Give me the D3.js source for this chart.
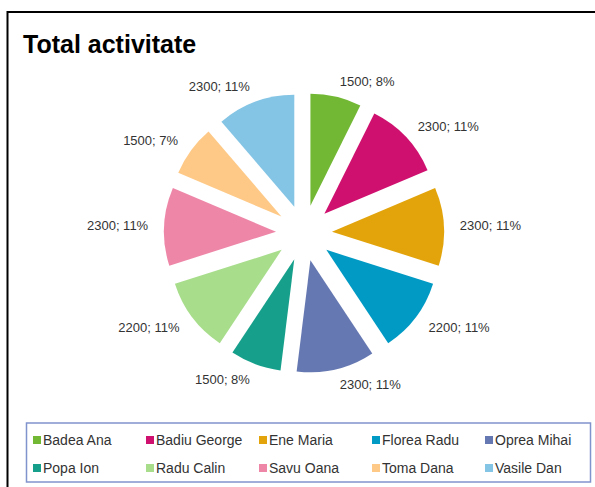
<!DOCTYPE html>
<html>
<head>
<meta charset="utf-8">
<script src="https://cdn.jsdelivr.net/npm/d3@7"></script>
<style>
  html, body { margin: 0; padding: 0; background: #fff; }
  svg { display: block; }
</style>
</head>
<body>
<div id="chart"></div>
<script>
// Activity totals per person
const names = ["Badea Ana", "Badiu George", "Ene Maria", "Florea Radu", "Oprea Mihai",
               "Popa Ion", "Radu Calin", "Savu Oana", "Toma Dana", "Vasile Dan"];
const values = [1500, 2300, 2300, 2200, 2300, 1500, 2200, 2300, 1500, 2300];
const percentLabels = ["8%", "11%", "11%", "11%", "11%", "8%", "11%", "11%", "7%", "11%"];
const colors = ["#72b834", "#cf106f", "#e2a40a", "#009ac4", "#6678b2",
                "#16a08b", "#a8dd8c", "#ee86a8", "#fec986", "#84c4e4"];

const W = 595, H = 487;
const svg = d3.select("#chart").append("svg").attr("width", W).attr("height", H);

// Chart frame (extends past the visible area on the right and bottom)
svg.append("rect")
  .attr("x", 7.5).attr("y", 12).attr("width", 620).attr("height", 520)
  .attr("fill", "#fff").attr("stroke", "#000").attr("stroke-width", 2);

svg.append("text")
  .attr("x", 23).attr("y", 53)
  .attr("font-family", "Liberation Sans, Arial, sans-serif")
  .attr("font-weight", "bold").attr("font-size", 25)
  .attr("fill", "#000")
  .text("Total activitate");

// Exploded pie
const cx = 304, cy = 233, radius = 112, explode = 28, labelR = 156;
const pie = d3.pie().sort(null).value(d => d.value);
const arcs = pie(names.map((n, i) => ({ name: n, value: values[i], pct: percentLabels[i], color: colors[i] })));
const arc = d3.arc().innerRadius(0).outerRadius(radius);

const g = svg.append("g").attr("transform", `translate(${cx},${cy})`);

g.selectAll("path.slice").data(arcs).join("path")
  .attr("class", "slice")
  .attr("d", arc)
  .attr("fill", d => d.data.color)
  .attr("transform", d => {
    const m = (d.startAngle + d.endAngle) / 2;
    return `translate(${explode * Math.sin(m)},${-explode * Math.cos(m)})`;
  });

g.selectAll("text.lbl").data(arcs).join("text")
  .attr("class", "lbl")
  .attr("x", d => labelR * Math.sin((d.startAngle + d.endAngle) / 2))
  .attr("y", d => -labelR * Math.cos((d.startAngle + d.endAngle) / 2))
  .attr("text-anchor", d => Math.sin((d.startAngle + d.endAngle) / 2) >= 0 ? "start" : "end")
  .attr("dominant-baseline", "central")
  .attr("font-family", "Liberation Sans, Arial, sans-serif")
  .attr("font-size", 13)
  .attr("fill", "#333")
  .text(d => `${d.data.value}; ${d.data.pct}`);

// Legend
const lg = svg.append("g");
lg.append("rect")
  .attr("x", 26.5).attr("y", 423).attr("width", 564).attr("height", 59)
  .attr("fill", "#fff").attr("stroke", "#8193cc").attr("stroke-width", 1.5);

const items = lg.selectAll("g.item").data(arcs).join("g")
  .attr("class", "item")
  .attr("transform", (d, i) => `translate(${33 + 113 * (i % 5)},${i < 5 ? 440 : 468})`);

items.append("rect")
  .attr("x", 0).attr("y", -4).attr("width", 8).attr("height", 8)
  .attr("fill", d => d.data.color);

items.append("text")
  .attr("x", 10).attr("y", 0)
  .attr("dominant-baseline", "central")
  .attr("font-family", "Liberation Sans, Arial, sans-serif")
  .attr("font-size", 14)
  .attr("fill", "#333")
  .text(d => d.data.name);
</script>
</body>
</html>
